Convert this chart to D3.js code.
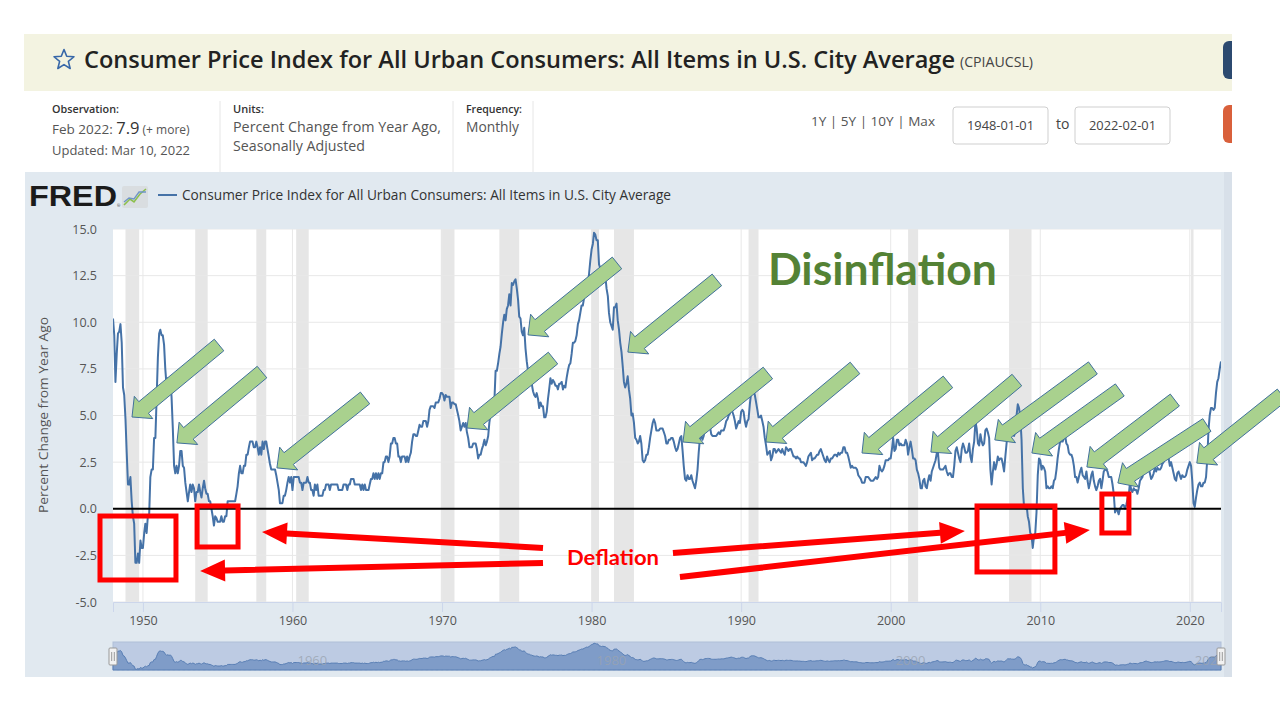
<!DOCTYPE html>
<html>
<head>
<meta charset="utf-8">
<script src="https://cdn.jsdelivr.net/npm/d3@7"></script>
<style>
  html, body { margin: 0; padding: 0; background: #fff; }
  svg { display: block; font-family: "Open Sans", sans-serif; }
</style>
</head>
<body>
<svg id="slide" width="1280" height="720"></svg>
<script>
// CPIAUCSL, percent change from year ago, monthly, one row per year (Jan..Dec)
const firstYear = 1948;
const cpiYoY = [
  [10.2,9.3,6.8,8.3,9.4,9.5,9.9,8.9,6.5,6.1,4.8,3.0],
  [1.3,1.3,1.7,0.4,-0.4,-0.8,-2.9,-2.9,-2.4,-2.9,-1.7,-2.1],
  [-2.1,-1.3,-0.8,-1.3,-0.4,-0.4,1.7,2.1,2.1,3.8,3.8,5.9],
  [8.1,9.4,9.6,9.3,9.3,8.8,7.5,6.6,7.0,6.5,6.9,6.0],
  [4.3,2.3,1.9,2.3,1.9,2.3,3.1,3.1,2.3,2.2,1.4,0.9],
  [0.4,0.9,1.3,0.9,1.3,1.1,0.4,0.9,0.9,1.3,0.9,0.6],
  [1.1,1.5,1.1,0.8,0.8,0.4,0.4,0.0,-0.4,-0.9,-0.4,-0.5],
  [-0.7,-0.7,-0.7,-0.4,-0.7,-0.7,-0.4,-0.4,0.4,0.4,0.4,0.4],
  [0.4,0.4,0.4,0.8,1.2,1.9,2.3,1.9,1.9,2.3,2.3,2.9],
  [2.9,3.3,3.6,3.6,3.6,3.3,3.3,3.6,3.3,2.9,3.3,2.9],
  [3.6,3.2,3.6,3.6,3.2,2.8,2.4,2.1,2.1,2.1,2.1,1.8],
  [1.4,1.0,0.3,0.3,0.3,0.7,0.7,1.0,1.4,1.7,1.4,1.7],
  [1.0,1.7,1.7,1.7,1.7,1.7,1.4,1.4,1.0,1.4,1.4,1.4],
  [1.7,1.4,1.4,1.0,1.0,0.7,1.3,1.0,1.3,0.7,0.7,0.7],
  [0.7,1.0,1.0,1.3,1.3,1.3,1.0,1.3,1.3,1.3,1.3,1.3],
  [1.3,1.0,1.0,1.0,1.0,1.3,1.3,1.3,1.0,1.3,1.3,1.6],
  [1.6,1.6,1.3,1.3,1.3,1.3,1.3,1.0,1.3,1.0,1.3,1.0],
  [1.0,1.0,1.3,1.6,1.6,1.9,1.6,1.9,1.6,1.9,1.6,1.9],
  [1.9,2.5,2.5,2.8,2.8,2.5,2.8,3.5,3.5,3.8,3.8,3.5],
  [3.5,2.8,2.8,2.5,2.8,2.8,2.8,2.5,2.8,2.5,2.8,3.0],
  [3.6,4.0,4.0,3.9,3.9,4.2,4.5,4.4,4.4,4.7,4.7,4.7],
  [4.4,4.7,5.3,5.5,5.5,5.5,5.4,5.7,5.7,5.7,5.9,6.2],
  [6.2,6.1,5.8,6.1,6.0,6.0,6.0,5.4,5.7,5.7,5.6,5.6],
  [5.3,5.0,4.7,4.2,4.4,4.6,4.4,4.6,4.1,3.8,3.3,3.3],
  [3.3,3.5,3.5,3.5,3.2,2.7,2.9,2.9,3.2,3.4,3.7,3.4],
  [3.6,3.9,4.6,5.1,5.5,5.9,5.7,7.4,7.4,7.8,8.3,8.7],
  [9.4,10.0,10.4,10.1,10.7,10.9,11.5,10.9,12.1,12.0,12.2,12.3],
  [11.8,11.2,10.3,10.2,9.5,9.3,9.7,8.6,7.9,7.4,7.4,6.9],
  [6.7,6.3,6.1,6.0,6.2,5.9,5.4,5.7,5.5,5.5,4.9,4.9],
  [5.2,5.9,6.4,7.0,6.7,6.9,6.8,6.6,6.6,6.4,6.7,6.7],
  [6.8,6.4,6.6,6.5,7.0,7.4,7.7,7.8,8.3,8.9,8.9,9.0],
  [9.3,9.9,10.1,10.5,10.9,10.9,11.3,11.8,12.2,12.1,12.6,13.3],
  [13.9,14.2,14.8,14.7,14.4,14.4,13.1,12.9,12.6,12.8,12.6,12.5],
  [11.8,11.4,10.5,10.0,9.8,9.6,10.8,10.8,11.0,10.1,9.6,8.9],
  [8.4,7.6,6.8,6.5,6.7,7.1,6.4,5.9,5.0,5.1,4.6,3.8],
  [3.7,3.5,3.6,3.9,3.5,2.6,2.5,2.6,2.9,2.9,3.3,3.8],
  [4.2,4.6,4.8,4.6,4.2,4.2,4.2,4.3,4.3,4.3,4.1,3.9],
  [3.5,3.5,3.7,3.7,3.8,3.8,3.6,3.3,3.1,3.2,3.5,3.8],
  [3.9,3.1,2.3,1.6,1.5,1.8,1.6,1.6,1.8,1.5,1.3,1.1],
  [1.5,2.1,3.0,3.8,3.9,3.7,3.9,4.3,4.4,4.5,4.5,4.4],
  [4.0,3.9,3.9,3.9,3.9,4.0,4.1,4.0,4.2,4.2,4.2,4.4],
  [4.7,4.8,5.0,5.1,5.4,5.2,5.0,4.7,4.3,4.5,4.7,4.6],
  [5.2,5.3,5.2,4.7,4.4,4.7,4.8,5.6,6.2,6.3,6.3,6.1],
  [5.7,5.3,4.9,4.9,5.0,4.7,4.4,3.8,3.4,2.9,3.0,3.1],
  [2.6,2.8,3.2,3.2,3.0,3.1,3.2,3.1,3.0,3.2,3.0,2.9],
  [3.3,3.2,3.1,3.2,3.2,3.0,2.8,2.8,2.7,2.8,2.7,2.7],
  [2.5,2.5,2.5,2.4,2.3,2.5,2.8,2.9,3.0,2.6,2.7,2.7],
  [2.8,2.9,2.9,3.1,3.2,3.0,2.8,2.6,2.5,2.8,2.6,2.5],
  [2.7,2.7,2.8,2.9,2.9,2.8,3.0,2.9,3.0,3.0,3.3,3.3],
  [3.0,3.0,2.8,2.5,2.2,2.3,2.2,2.2,2.2,2.1,1.8,1.7],
  [1.6,1.4,1.4,1.4,1.7,1.7,1.7,1.6,1.5,1.5,1.5,1.6],
  [1.7,1.6,1.7,2.3,2.1,2.0,2.1,2.3,2.6,2.6,2.6,2.7],
  [2.7,3.2,3.8,3.1,3.2,3.7,3.7,3.4,3.5,3.4,3.4,3.4],
  [3.7,3.5,2.9,3.3,3.6,3.2,2.7,2.7,2.6,2.1,1.9,1.6],
  [1.1,1.1,1.5,1.6,1.2,1.1,1.5,1.8,1.5,2.0,2.2,2.4],
  [2.6,3.0,3.0,2.2,2.1,2.1,2.1,2.2,2.3,2.0,1.8,1.9],
  [1.9,1.7,1.7,2.3,3.1,3.3,3.0,2.7,2.5,3.2,3.5,3.3],
  [3.0,3.0,3.1,3.5,2.8,2.5,3.2,3.6,4.7,4.3,3.5,3.4],
  [4.0,3.6,3.4,3.5,4.2,4.3,4.1,3.8,2.1,1.3,2.0,2.5],
  [2.1,2.4,2.8,2.6,2.7,2.7,2.4,2.0,2.8,3.5,4.3,4.1],
  [4.3,4.0,4.0,3.9,4.2,5.0,5.6,5.4,4.9,3.7,1.1,0.1],
  [0.0,0.2,-0.4,-0.7,-1.3,-1.4,-2.1,-1.5,-1.3,-0.2,1.8,2.7],
  [2.6,2.1,2.3,2.2,2.0,1.1,1.2,1.1,1.1,1.2,1.1,1.5],
  [1.6,2.1,2.7,3.2,3.6,3.6,3.6,3.8,3.9,3.5,3.4,3.0],
  [2.9,2.9,2.7,2.3,1.7,1.7,1.4,1.7,2.0,2.2,1.8,1.7],
  [1.6,2.0,1.5,1.1,1.4,1.8,2.0,1.5,1.2,1.0,1.2,1.5],
  [1.6,1.1,1.5,2.0,2.1,2.1,2.0,1.7,1.7,1.7,1.3,0.8],
  [-0.2,0.0,-0.1,-0.3,0.0,0.1,0.2,0.2,0.0,0.2,0.5,0.7],
  [1.4,1.0,0.9,1.1,1.0,1.0,0.8,1.1,1.5,1.6,1.7,2.1],
  [2.5,2.7,2.4,2.2,1.9,1.6,1.7,1.9,2.2,2.0,2.2,2.1],
  [2.1,2.2,2.4,2.5,2.8,2.9,2.9,2.7,2.3,2.5,2.2,1.9],
  [1.6,1.5,1.9,2.0,1.8,1.6,1.8,1.7,1.7,1.8,2.1,2.3],
  [2.5,2.3,1.5,0.3,0.1,0.6,1.0,1.3,1.4,1.2,1.2,1.4],
  [1.4,1.7,2.6,4.2,5.0,5.4,5.4,5.3,5.4,6.2,6.8,7.0],
  [7.5,7.9]
];

// NBER recessions (shaded)
const recessions = [
  ["1948-11","1949-10"], ["1953-07","1954-05"], ["1957-08","1958-04"],
  ["1960-04","1961-02"], ["1969-12","1970-11"], ["1973-11","1975-03"],
  ["1980-01","1980-07"], ["1981-07","1982-11"], ["1990-07","1991-03"],
  ["2001-03","2001-11"], ["2007-12","2009-06"], ["2020-02","2020-04"]
];

const yTicks = [-5, -2.5, 0, 2.5, 5, 7.5, 10, 12.5, 15];
const navLabels = [1960, 1980, 2000, 2020];
const dateRange = ["1948-01-01", "2022-02-01"];

// slide annotations, in data units: [tipYear, tipValue, tailYear, tailValue]
const greenArrows = [
  [1949.27,4.92,1955.09,8.78], [1952.27,3.53,1957.96,7.33], [1958.96,2.19,1964.85,5.94],
  [1971.67,4.33,1977.42,8.08], [1975.75,9.32,1981.70,13.18], [1982.43,8.40,1988.38,12.27],
  [1986.11,3.58,1991.79,7.28], [1991.66,3.58,1997.61,7.55], [1998.08,2.99,2003.83,6.80],
  [2002.69,3.04,2008.44,6.90], [2006.96,3.69,2013.52,7.55], [2009.44,2.99,2015.32,6.37],
  [2013.12,2.24,2019.00,5.83], [2015.19,1.38,2021.14,4.49], [2020.47,2.45,2026.16,6.10]
];
// deflation boxes: [x0Year, topValue, x1Year, bottomValue]
const redBoxes = [
  [1947.13,-0.39,1952.21,-3.82], [1953.62,0.15,1956.36,-2.05],
  [2005.77,0.15,2010.98,-3.39], [2014.12,0.79,2015.93,-1.30]
];
// red arrows: [fromYear, fromValue, toYear, toValue]
const redArrows = [
  [1976.75,-2.10,1957.96,-1.25], [1976.75,-2.91,1953.82,-3.34],
  [1985.44,-2.37,2004.96,-1.19], [1985.91,-3.66,2013.32,-1.14]
];

const series = cpiYoY.flatMap((row, yi) =>
  row.map((v, m) => ({ date: new Date(firstYear + yi, m, 1), value: v })));

const svg = d3.select("#slide");

function fit(sel, w) {
  sel.attr("textLength", w).attr("lengthAdjust", "spacingAndGlyphs");
  return sel;
}

// ---------- page header ----------
svg.append("rect").attr("x", 24).attr("y", 34).attr("width", 1208).attr("height", 57).attr("fill", "#f3f3e1");

const star = d3.range(10).map(i => {
  const r = i % 2 ? 4.6 : 10.5, a = -Math.PI / 2 + i * Math.PI / 5;
  return [64 + r * Math.cos(a), 60 + r * Math.sin(a)];
});
svg.append("polygon").attr("points", star.join(" "))
  .attr("fill", "none").attr("stroke", "#3767a8").attr("stroke-width", 1.6).attr("stroke-linejoin", "round");

fit(svg.append("text").attr("x", 84).attr("y", 68).attr("font-size", 23).attr("font-weight", 600).attr("fill", "#222")
  .text("Consumer Price Index for All Urban Consumers: All Items in U.S. City Average"), 871);
fit(svg.append("text").attr("x", 960).attr("y", 67).attr("font-size", 14).attr("fill", "#444").text("(CPIAUCSL)"), 73);

// right-hand buttons, cut off by the screenshot
svg.append("rect").attr("x", 1223).attr("y", 41).attr("width", 20).attr("height", 38).attr("rx", 6).attr("fill", "#2c4a70");
svg.append("rect").attr("x", 1223).attr("y", 105).attr("width", 20).attr("height", 38).attr("rx", 6).attr("fill", "#d9603b");
svg.append("rect").attr("x", 1232).attr("y", 30).attr("width", 48).attr("height", 660).attr("fill", "#fff");

// observation / units / frequency
[220, 453, 533].forEach(x => svg.append("line").attr("x1", x).attr("x2", x).attr("y1", 101).attr("y2", 172)
  .attr("stroke", "#e6e6e6"));
dateRange.forEach((t, i) => {
  const bx = 953 + i * 122;
  svg.append("rect").attr("x", bx).attr("y", 107).attr("width", 95).attr("height", 37).attr("rx", 3)
    .attr("fill", "#fff").attr("stroke", "#cfcfcf");
  fit(svg.append("text").attr("x", bx + 47.5).attr("y", 130).attr("text-anchor", "middle").attr("font-size", 12.5)
    .attr("fill", "#444").text(t), 67);
});

const info = svg.append("g").attr("fill", "#555");
fit(info.append("text").attr("x", 52).attr("y", 113).attr("font-size", 10.5).attr("font-weight", 600).attr("fill", "#333").text("Observation:"), 67);
const obs = info.append("text").attr("x", 52).attr("y", 134).attr("font-size", 13.5);
obs.append("tspan").text("Feb 2022: ");
obs.append("tspan").attr("font-size", 16.5).attr("fill", "#333").text("7.9");
obs.append("tspan").attr("font-size", 12).text(" (+ more)");
fit(info.append("text").attr("x", 52).attr("y", 155).attr("font-size", 13).text("Updated: Mar 10, 2022"), 138);
fit(info.append("text").attr("x", 233).attr("y", 113).attr("font-size", 10.5).attr("font-weight", 600).attr("fill", "#333").text("Units:"), 31);
fit(info.append("text").attr("x", 233).attr("y", 132).attr("font-size", 14).text("Percent Change from Year Ago,"), 208);
fit(info.append("text").attr("x", 233).attr("y", 151).attr("font-size", 14).text("Seasonally Adjusted"), 132);
fit(info.append("text").attr("x", 466).attr("y", 113).attr("font-size", 10.5).attr("font-weight", 600).attr("fill", "#333").text("Frequency:"), 56);
fit(info.append("text").attr("x", 466).attr("y", 132).attr("font-size", 14).text("Monthly"), 53);
fit(info.append("text").attr("x", 811).attr("y", 126).attr("font-size", 13.5).text("1Y | 5Y | 10Y | Max"), 124);
info.append("text").attr("x", 1056).attr("y", 129).attr("font-size", 14).attr("fill", "#444").text("to");

// ---------- chart panel ----------
svg.append("rect").attr("x", 25).attr("y", 172).attr("width", 1207).attr("height", 505).attr("fill", "#e1e9f0");
svg.append("rect").attr("x", 1224).attr("y", 172).attr("width", 8).attr("height", 505).attr("fill", "#d8e0e9");

// FRED logo + legend
fit(svg.append("text").attr("x", 29).attr("y", 206).attr("font-family", "Liberation Sans, Arial, sans-serif")
  .attr("font-size", 29).attr("font-weight", 700).attr("fill", "#1b1b1b").text("FRED"), 88);
svg.append("text").attr("x", 117).attr("y", 207).attr("font-size", 4).attr("fill", "#333").text("®");
const icon = svg.append("g");
icon.append("rect").attr("x", 122).attr("y", 186).attr("width", 26).attr("height", 22).attr("rx", 2).attr("fill", "#d9dde0");
icon.append("polyline").attr("points", "124,205 130,199 134,202 140,194 146,189")
  .attr("fill", "none").attr("stroke", "#8cbf4d").attr("stroke-width", 1.6);
icon.append("polyline").attr("points", "124,202 129,198 134,199 139,192 146,192")
  .attr("fill", "none").attr("stroke", "#6f95c6").attr("stroke-width", 1.3);
svg.append("line").attr("x1", 158).attr("x2", 177).attr("y1", 195).attr("y2", 195).attr("stroke", "#4572a7").attr("stroke-width", 2);
fit(svg.append("text").attr("x", 182).attr("y", 200).attr("font-size", 14).attr("fill", "#333")
  .text("Consumer Price Index for All Urban Consumers: All Items in U.S. City Average"), 489);

// scales
const x = d3.scaleTime().domain([new Date(1948, 0, 1), new Date(2022, 1, 1)]).range([113, 1221]);
const y = d3.scaleLinear().domain([-5, 15]).range([602, 229]);
const parse = d3.timeParse("%Y-%m");
const yearToDate = yr => {
  const y0 = Math.floor(yr), d0 = new Date(y0, 0, 1), d1 = new Date(y0 + 1, 0, 1);
  return new Date(+d0 + (yr - y0) * (d1 - d0));
};
const px = yr => x(yearToDate(yr));

svg.append("rect").attr("x", 113).attr("y", 229).attr("width", 1108).attr("height", 373).attr("fill", "#fff");
svg.append("clipPath").attr("id", "plotClip").append("rect").attr("x", 113).attr("y", 229).attr("width", 1108).attr("height", 373);
const plot = svg.append("g").attr("clip-path", "url(#plotClip)");

plot.selectAll("rect.rec").data(recessions).join("rect").attr("class", "rec")
  .attr("x", d => x(parse(d[0]))).attr("width", d => x(parse(d[1])) - x(parse(d[0])))
  .attr("y", 229).attr("height", 373).attr("fill", "#e6e6e6");

plot.selectAll("line.hg").data(yTicks).join("line").attr("class", "hg")
  .attr("x1", 113).attr("x2", 1221).attr("y1", d => y(d)).attr("y2", d => y(d))
  .attr("stroke", "#e8e8e8").attr("stroke-width", 1);
const decades = x.ticks(d3.timeYear.every(10));
plot.selectAll("line.vg").data(decades).join("line").attr("class", "vg")
  .attr("x1", d => x(d)).attr("x2", d => x(d)).attr("y1", 229).attr("y2", 602)
  .attr("stroke", "#e8e8e8").attr("stroke-width", 1);

plot.append("path").datum(series)
  .attr("d", d3.line().x(d => x(d.date)).y(d => y(d.value)))
  .attr("fill", "none").attr("stroke", "#4572a7").attr("stroke-width", 2).attr("stroke-linejoin", "round");

// y axis
const yAxis = svg.append("g").attr("transform", "translate(113,0)")
  .call(d3.axisLeft(y).tickValues(yTicks).tickSize(0).tickPadding(16).tickFormat(d => d.toFixed(1)));
yAxis.select(".domain").remove();
yAxis.selectAll("text").attr("font-family", "Open Sans, sans-serif").attr("font-size", 12.5).attr("fill", "#555");

svg.append("text").attr("transform", "translate(48,415) rotate(-90)").attr("text-anchor", "middle")
  .attr("font-size", 13).attr("fill", "#555").text("Percent Change from Year Ago")
  .call(s => fit(s, 196));

// x axis
const xAxis = svg.append("g").attr("transform", "translate(0,602)")
  .call(d3.axisBottom(x).ticks(d3.timeYear.every(10)).tickSize(10).tickPadding(4).tickFormat(d3.timeFormat("%Y")));
xAxis.select(".domain").attr("stroke", "#ccd6eb");
xAxis.selectAll(".tick line").attr("stroke", "#ccd6eb");
xAxis.selectAll("text").attr("font-family", "Open Sans, sans-serif").attr("font-size", 12.5).attr("fill", "#555");

// navigator
const ny = d3.scaleLinear().domain([-3.4, 15]).range([670, 643]);
svg.append("rect").attr("x", 113).attr("y", 642).attr("width", 1108).attr("height", 28).attr("fill", "#bdcbe3")
  .attr("stroke", "#b0bfd8");
svg.append("path").datum(series)
  .attr("d", d3.area().x(d => x(d.date)).y0(670).y1(d => ny(d.value)))
  .attr("fill", "#7f9cc8").attr("stroke", "#587eb4").attr("stroke-width", 1);
svg.append("clipPath").attr("id", "navClip").append("rect").attr("x", 113).attr("y", 642).attr("width", 1108).attr("height", 28);
svg.append("g").attr("clip-path", "url(#navClip)")
  .selectAll("text").data(navLabels).join("text")
  .attr("x", d => x(new Date(d, 0, 1)) + 5).attr("y", 665).attr("font-size", 13)
  .attr("fill", "#9aa3b0").attr("fill-opacity", 0.8).text(d => d);
[113, 1221].forEach(hx => {
  const h = svg.append("g");
  h.append("rect").attr("x", hx - 4).attr("y", 648).attr("width", 8).attr("height", 17).attr("rx", 1)
    .attr("fill", "#f2f2f2").attr("stroke", "#999");
  [-1.3, 1.3].forEach(o => h.append("line").attr("x1", hx + o).attr("x2", hx + o).attr("y1", 652).attr("y2", 661)
    .attr("stroke", "#999"));
});

// ---------- slide annotations ----------
function blockArrow(x1, y1, x2, y2, sw, hw, hl) {
  // tip at (x1,y1), tail at (x2,y2)
  const dx = x1 - x2, dy = y1 - y2, len = Math.hypot(dx, dy);
  const ux = dx / len, uy = dy / len, nx = -uy, ny2 = ux;
  const bx = x1 - ux * hl, by = y1 - uy * hl;
  return [
    [x2 + nx * sw / 2, y2 + ny2 * sw / 2], [bx + nx * sw / 2, by + ny2 * sw / 2],
    [bx + nx * hw / 2, by + ny2 * hw / 2], [x1, y1],
    [bx - nx * hw / 2, by - ny2 * hw / 2], [bx - nx * sw / 2, by - ny2 * sw / 2],
    [x2 - nx * sw / 2, y2 - ny2 * sw / 2]
  ].map(p => p.map(v => v.toFixed(1)).join(",")).join(" ");
}

svg.append("line").attr("x1", 113).attr("x2", 1221).attr("y1", y(0)).attr("y2", y(0))
  .attr("stroke", "#000").attr("stroke-width", 2);

svg.selectAll("polygon.green").data(greenArrows).join("polygon").attr("class", "green")
  .attr("points", d => blockArrow(px(d[0]), y(d[1]), px(d[2]), y(d[3]), 15, 29, 15))
  .attr("fill", "#a9d18e").attr("stroke", "#41719c").attr("stroke-width", 1).attr("stroke-linejoin", "miter");

fit(svg.append("text").attr("x", px(1991.79)).attr("y", y(11.98)).attr("font-family", "Lato, sans-serif")
  .attr("font-size", 44).attr("font-weight", 700).attr("fill", "#548235").text("Disinflation"), 229);

svg.selectAll("rect.red").data(redBoxes).join("rect").attr("class", "red")
  .attr("x", d => px(d[0])).attr("y", d => y(d[1]))
  .attr("width", d => px(d[2]) - px(d[0])).attr("height", d => y(d[3]) - y(d[1]))
  .attr("fill", "none").attr("stroke", "#ff0000").attr("stroke-width", 5);

svg.selectAll("polygon.redarrow").data(redArrows).join("polygon").attr("class", "redarrow")
  .attr("points", d => blockArrow(px(d[2]), y(d[3]), px(d[0]), y(d[1]), 6, 22, 25))
  .attr("fill", "#ff0000");

fit(svg.append("text").attr("x", px(1981.43)).attr("y", y(-2.65) + 7).attr("text-anchor", "middle")
  .attr("font-family", "Lato, sans-serif").attr("font-size", 21).attr("font-weight", 700)
  .attr("fill", "#ff0000").text("Deflation"), 92);
</script>
</body>
</html>
